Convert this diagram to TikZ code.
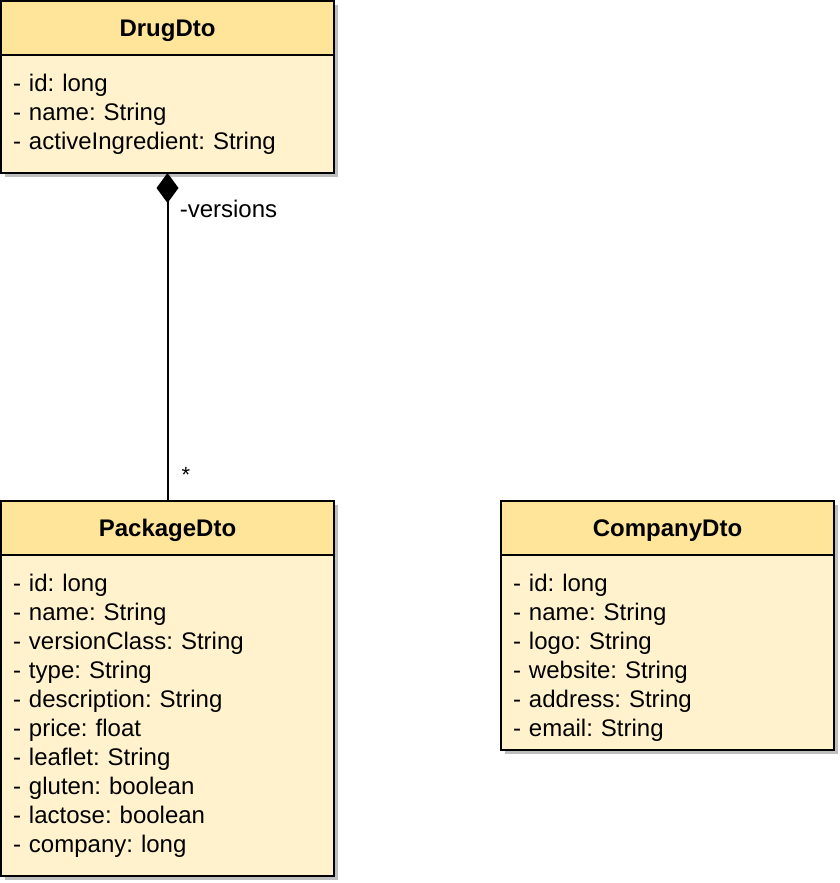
\documentclass[tikz,border=0pt]{standalone}
\usepackage{fontspec}
\setmainfont{Liberation Sans}
\usetikzlibrary{arrows.meta,positioning,shadows}
\definecolor{headyellow}{RGB}{255,229,153}
\definecolor{bodyyellow}{RGB}{255,242,204}
\definecolor{shadowgray}{RGB}{190,190,190}
\frenchspacing

\begin{document}
\begin{tikzpicture}[
    x=1pt, y=-1pt,
    node distance=0pt,
    classhead/.style={rectangle, draw=black, line width=2pt, fill=headyellow,
                minimum width=333pt, minimum height=54pt, inner sep=0pt, outer sep=0pt,
                text height=17pt, text depth=0pt,
                font=\fontsize{24}{29}\selectfont\bfseries,
                drop shadow={shadow xshift=4pt, shadow yshift=-4pt, fill=shadowgray, opacity=1}},
    classbody/.style={rectangle, draw=black, line width=2pt, fill=bodyyellow,
                minimum width=333pt, text width=309pt, inner xsep=12pt, inner ysep=0pt,
                outer sep=0pt, align=left, font=\fontsize{24}{29}\selectfont,
                drop shadow={shadow xshift=4pt, shadow yshift=-4pt, fill=shadowgray, opacity=1}},
    comp/.style={{Diamond[length=30pt,width=22pt]}-, line width=2pt, black}
]
\useasboundingbox (0,0) rectangle (840,883);

% DrugDto
\node[classhead, anchor=north west] (drug) at (1,1) {DrugDto};
\node[classbody, below=of drug, minimum height=118pt] (drugattr)
  {- id: long\\- name: String\\- activeIngredient: String};

% PackageDto
\node[classhead, anchor=north west] (pkg) at (1,501) {PackageDto};
\node[classbody, below=of pkg, minimum height=321pt] (pkgattr)
  {- id: long\\- name: String\\- versionClass: String\\- type: String\\- description: String\\- price: float\\- leaflet: String\\- gluten: boolean\\- lactose: boolean\\- company: long};

% CompanyDto
\node[classhead, anchor=north west] (company) at (501,501) {CompanyDto};
\node[classbody, below=of company, minimum height=195pt, text depth=140pt] (companyattr)
  {- id: long\\- name: String\\- logo: String\\- website: String\\- address: String\\- email: String};

% Composition
\draw[comp] (drugattr) -- (pkg)
  node[at start, anchor=west, xshift=8pt, yshift=-36pt, font=\fontsize{24}{29}\selectfont] (versions) {-versions}
  node[at end, anchor=base west, xshift=13pt, yshift=19pt, font=\fontsize{22}{26}\selectfont, inner sep=0pt] (mult) {*};
\end{tikzpicture}
\end{document}
